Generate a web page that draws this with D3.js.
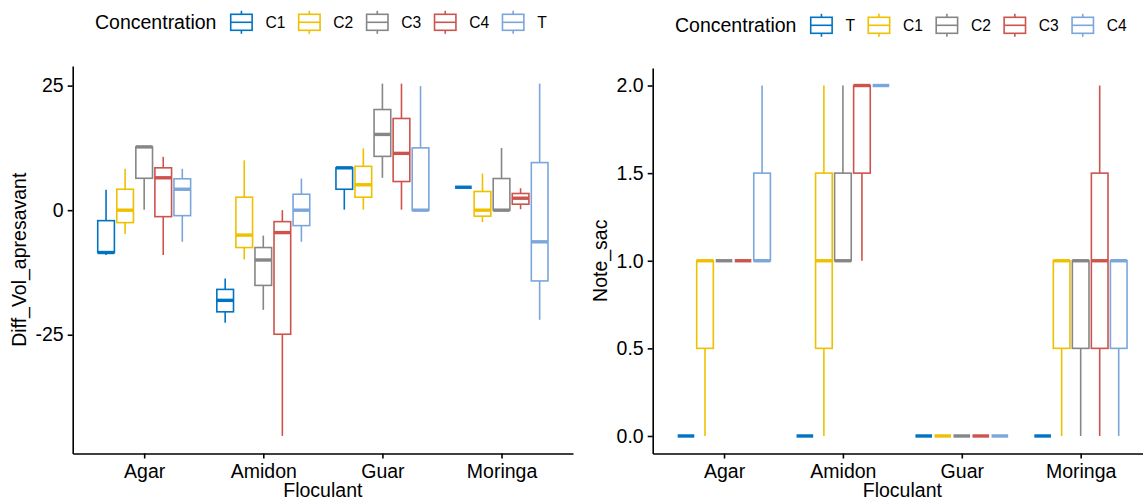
<!doctype html>
<html>
<head>
<meta charset="utf-8">
<script src="https://cdnjs.cloudflare.com/ajax/libs/d3/7.8.5/d3.min.js"></script>
<style>
  body { margin: 0; background: #fff; }
  svg { display: block; font-family: "Liberation Sans", Arial, sans-serif; }
</style>
</head>
<body>
<svg id="chart" width="1143" height="501"></svg>
<script>
// categories
var floculants = ["Agar", "Amidon", "Guar", "Moringa"];
var leftLevels = ["C1", "C2", "C3", "C4", "T"];
var rightLevels = ["T", "C1", "C2", "C3", "C4"];
var jco = ["#0073C2", "#EFC000", "#868686", "#CD534C", "#7AA6DC"];
var leftTicks = [-25, 0, 25];
var rightTicks = [0, 0.5, 1, 1.5, 2];

// box stats per floculant: [min, q1, median, q3, max]
var diffC1 = [[-9, -8.5, -8.5, -2.1, 4.1], [-22.6, -20.4, -18.1, -15.9, -13.7], [0.1, 4.2, 8.5, 8.5, 8.5], [4.6, 4.6, 4.6, 4.6, 4.6]];
var diffC2 = [[-4.8, -2.5, 0, 4.2, 8.3], [-9.9, -7.5, -5, 2.6, 10], [0.1, 2.6, 5.1, 8.8, 12.4], [-2.4, -1.2, 0, 3.75, 7.35]];
var diffC3 = [[0.1, 6.4, 12.7, 12.7, 12.7], [-20, -15.1, -10, -7.5, -5.1], [6.5, 10.8, 15.2, 20.2, 25.4], [0, 0, 0, 6.35, 12.5]];
var diffC4 = [[-9, -1.3, 6.5, 8.5, 10.7], [-45.3, -24.9, -4.5, -2.3, 0], [0.1, 5.75, 11.4, 18.4, 25.4], [0.2, 1.2, 2.4, 3.35, 4.4]];
var diffT  = [[-6.35, -1.1, 4.2, 6.3, 8.3], [-6.35, -3.1, 0, 3.2, 6.35], [0, 0, 0, 12.5, 24.9], [-22, -14.2, -6.35, 9.55, 25.4]];

var noteT  = [[0, 0, 0, 0, 0], [0, 0, 0, 0, 0], [0, 0, 0, 0, 0], [0, 0, 0, 0, 0]];
var noteC1 = [[0, 0.5, 1, 1, 1], [0, 0.5, 1, 1.5, 2], [0, 0, 0, 0, 0], [0, 0.5, 1, 1, 1]];
var noteC2 = [[1, 1, 1, 1, 1], [1, 1, 1, 1.5, 2], [0, 0, 0, 0, 0], [0, 0.5, 1, 1, 1]];
var noteC3 = [[1, 1, 1, 1, 1], [1, 1.5, 2, 2, 2], [0, 0, 0, 0, 0], [0, 0.5, 1, 1.5, 2]];
var noteC4 = [[1, 1, 1, 1.5, 2], [2, 2, 2, 2, 2], [0, 0, 0, 0, 0], [0, 0.5, 1, 1, 1]];

var svg = d3.select("#chart");

function drawPanel(p) {
  var g = svg.append("g");
  var x = d3.scalePoint().domain(floculants).range([p.x0, p.x1]).padding(0.6);
  var all = [];
  p.series.forEach(function(s) { s.forEach(function(b) { all = all.concat(b); }); });
  var ext = d3.extent(all), pad = (ext[1] - ext[0]) * 0.05;
  var y = d3.scaleLinear().domain([ext[0] - pad, ext[1] + pad]).range([p.y1, p.y0]);
  var step = x.step();
  var bw = step * 0.14;

  p.levels.forEach(function(lev, i) {
    var col = jco[i];
    var off = (i - 2) * step * 0.16;
    var bg = g.append("g").selectAll("g")
      .data(p.series[i].map(function(d, j) { return { f: floculants[j], s: d }; }))
      .enter().append("g")
      .attr("transform", function(d) { return "translate(" + (x(d.f) + off) + ",0)"; });
    bg.append("line").attr("x1", 0).attr("x2", 0)
      .attr("y1", function(d) { return y(d.s[3]); }).attr("y2", function(d) { return y(d.s[4]); })
      .attr("stroke", col).attr("stroke-width", 1.6);
    bg.append("line").attr("x1", 0).attr("x2", 0)
      .attr("y1", function(d) { return y(d.s[1]); }).attr("y2", function(d) { return y(d.s[0]); })
      .attr("stroke", col).attr("stroke-width", 1.6);
    bg.append("rect").attr("x", -bw / 2).attr("width", bw)
      .attr("y", function(d) { return y(d.s[3]); })
      .attr("height", function(d) { return y(d.s[1]) - y(d.s[3]); })
      .attr("fill", "#fff").attr("stroke", col).attr("stroke-width", 1.6);
    bg.append("line").attr("x1", -bw / 2).attr("x2", bw / 2)
      .attr("y1", function(d) { return y(d.s[2]); }).attr("y2", function(d) { return y(d.s[2]); })
      .attr("stroke", col).attr("stroke-width", 3.4);
  });

  var ya = g.append("g").attr("transform", "translate(" + p.x0 + ",0)")
    .call(d3.axisLeft(y).tickValues(p.ticks).tickFormat(p.fmt).tickSize(5).tickSizeOuter(0).tickPadding(4));
  var xa = g.append("g").attr("transform", "translate(0," + p.y1 + ")")
    .call(d3.axisBottom(x).tickSize(5).tickSizeOuter(0).tickPadding(6));
  [ya, xa].forEach(function(a) {
    a.select(".domain").attr("stroke", "#000").attr("stroke-width", 1.6);
    a.selectAll(".tick line").attr("stroke", "#000").attr("stroke-width", 1.6);
    a.selectAll(".tick text").attr("fill", "#000").style("font-size", "19.5px")
      .style("font-family", "Liberation Sans, Arial, sans-serif");
  });

  g.append("text").attr("x", (p.x0 + p.x1) / 2).attr("y", 496.5)
    .attr("text-anchor", "middle").style("font-size", "19.5px").text("Floculant");
  g.append("text").attr("transform", "translate(" + p.ytx + "," + ((p.y0 + p.y1) / 2) + ") rotate(-90)")
    .attr("text-anchor", "middle").style("font-size", "19.5px").text(p.ytitle);

  // legend
  var lg = g.append("g").attr("transform", "translate(" + p.lx + "," + p.ly + ")");
  var t = lg.append("text").attr("x", 0).attr("y", 7).style("font-size", "19.5px").text("Concentration");
  var cx = t.node().getComputedTextLength() + 13.5;
  p.levels.forEach(function(lev, i) {
    var col = jco[i];
    var k = lg.append("g").attr("transform", "translate(" + cx + ",0)");
    k.append("line").attr("x1", 11.5).attr("x2", 11.5).attr("y1", -11.5).attr("y2", 11.5)
      .attr("stroke", col).attr("stroke-width", 1.6);
    k.append("rect").attr("x", 0.8).attr("y", -8).attr("width", 21.4).attr("height", 16)
      .attr("fill", "#fff").attr("stroke", col).attr("stroke-width", 1.6);
    k.append("line").attr("x1", 0.8).attr("x2", 22.2).attr("y1", 0).attr("y2", 0)
      .attr("stroke", col).attr("stroke-width", 1.6);
    var lt = lg.append("text").attr("x", cx + 35.5).attr("y", 5.5).style("font-size", "15.6px").text(lev);
    cx = cx + 35.5 + lt.node().getComputedTextLength() + 12.5;
  });
}

drawPanel({
  x0: 72.7, x1: 573, y0: 66, y1: 453.5,
  levels: leftLevels, series: [diffC1, diffC2, diffC3, diffC4, diffT],
  ticks: leftTicks, fmt: function(d) { return String(d); },
  ytitle: "Diff_Vol_apresavant", ytx: 26,
  lx: 95, ly: 22.3
});

drawPanel({
  x0: 652.7, x1: 1152, y0: 68, y1: 453.5,
  levels: rightLevels, series: [noteT, noteC1, noteC2, noteC3, noteC4],
  ticks: rightTicks, fmt: d3.format(".1f"),
  ytitle: "Note_sac", ytx: 607,
  lx: 675, ly: 25.3
});
</script>
</body>
</html>
